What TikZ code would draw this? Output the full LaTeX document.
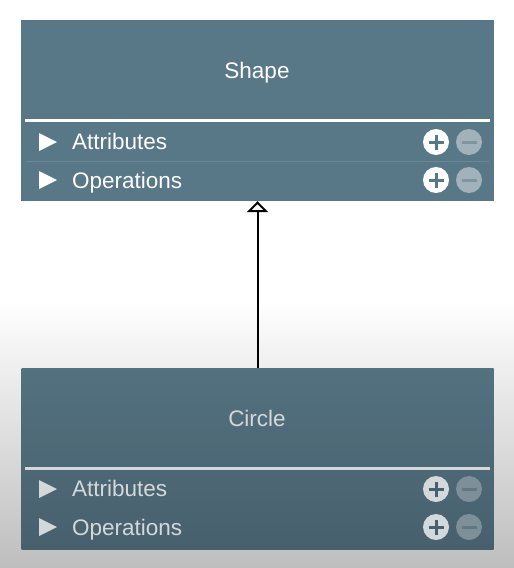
\documentclass[tikz,border=0pt]{standalone}
\usepackage{fontspec}
\setmainfont{Liberation Sans}
\usetikzlibrary{arrows.meta}
\definecolor{boxA}{HTML}{587888}
\definecolor{boxBtop}{HTML}{53717F}
\definecolor{boxBbot}{HTML}{48606D}
\definecolor{txtB}{HTML}{D3D8DB}
\definecolor{minA}{HTML}{A2B2BA}
\definecolor{minAbar}{HTML}{7F96A2}
\definecolor{minB}{HTML}{7D8F98}
\definecolor{minBbar}{HTML}{627782}
\definecolor{sepA}{HTML}{6A8898}
\definecolor{bgbot}{HTML}{BEBEBE}
\tikzset{
  classbox/.style={draw=none, rectangle, minimum width=473pt, minimum height=181pt, inner sep=0pt},
  lbl/.style={inner sep=0pt, anchor=base, font=\fontsize{22.5}{27}\selectfont},
  rowlbl/.style={lbl, anchor=base west},
  iconc/.style={circle, minimum size=26pt, inner sep=0pt},
}
\begin{document}
\begin{tikzpicture}[x=1pt,y=-1pt]
\useasboundingbox (0,0) rectangle (514,568);
% background
\fill[white] (0,0) rectangle (514,300);
\shade[top color=white, bottom color=bgbot] (0,300) rectangle (514,568);
% top class box
\node[classbox, fill=boxA] (shape) at (257.5,110.5) {};
\node[lbl, text=white] (shapet) at (257,78) {Shape};
\draw[white, line width=3pt] (25,120) -- (490,120);
\draw[sepA, line width=1pt] (26,161) -- (489,161);
\fill[white] (39,133) -- (57,142) -- (39,151) -- cycle;
\fill[white] (39,171) -- (57,180) -- (39,189) -- cycle;
\node[rowlbl, text=white] (sattr) at (72,149.5) {Attributes};
\node[rowlbl, text=white] (sops) at (72,188) {Operations};
\foreach \yy/\nm in {142/sa,180/so}{
  \node[iconc, fill=white] (\nm plus) at (436,\yy) {};
  \draw[boxA, line width=3pt] (428.5,\yy) -- (443.5,\yy) (436,\yy-7.5) -- (436,\yy+7.5);
  \node[iconc, fill=minA] (\nm minus) at (469,\yy) {};
  \draw[minAbar, line width=3pt] (461.5,\yy) -- (476.5,\yy);
}
% bottom class box
\shade[top color=boxBtop, bottom color=boxBbot] (21.5,368) rectangle (493.5,549);
\node[classbox] (circ) at (257.5,458.5) {};
\node[lbl, text=txtB] (circt) at (257,426) {Circle};
\draw[txtB, line width=3pt] (25,468) -- (490,468);
\fill[txtB] (39,480) -- (57,489) -- (39,498) -- cycle;
\fill[txtB] (39,518) -- (57,527) -- (39,536) -- cycle;
\node[rowlbl, text=txtB] (cattr) at (72,496.5) {Attributes};
\node[rowlbl, text=txtB] (cops) at (72,535) {Operations};
\foreach \yy/\nm in {489/ca,527/co}{
  \node[iconc, fill=txtB] (\nm plus) at (436,\yy) {};
  \draw[boxBbot, line width=3pt] (428.5,\yy) -- (443.5,\yy) (436,\yy-7.5) -- (436,\yy+7.5);
  \node[iconc, fill=minB] (\nm minus) at (469,\yy) {};
  \draw[minBbar, line width=3pt] (461.5,\yy) -- (476.5,\yy);
}
% generalization arrow
\draw[black, line width=2pt, -{Triangle[open, width=21pt, length=11pt, fill=white]}] (circ.north) -- (shape.south);
\end{tikzpicture}
\end{document}
